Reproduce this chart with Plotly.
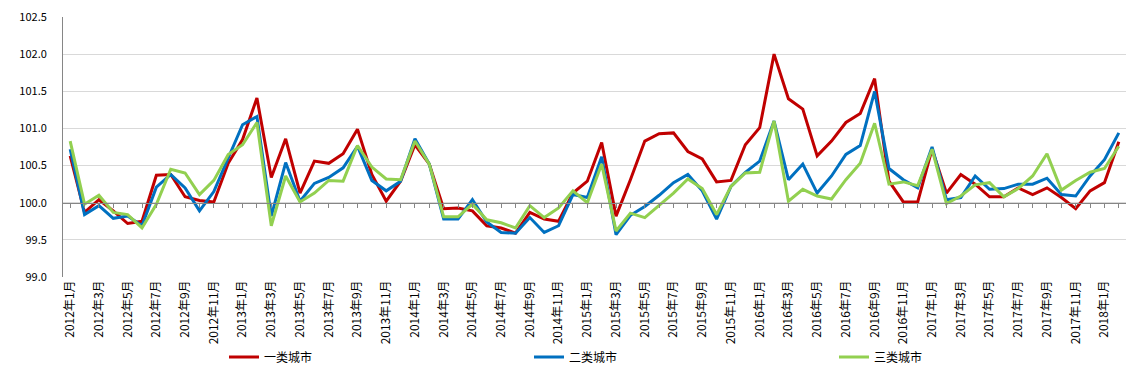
import plotly.graph_objects as go

months = [f"{y}年{m}月" for y in range(2012, 2019) for m in range(1, 13)][:74]

tier1 = [100.63, 99.87, 100.04, 99.89, 99.72, 99.75, 100.37, 100.38, 100.08, 100.03,
         100.01, 100.53, 100.85, 101.41, 100.34, 100.86, 100.13, 100.56, 100.53, 100.66,
         100.99, 100.38, 100.02, 100.29, 100.78, 100.52, 99.92, 99.93, 99.89, 99.69,
         99.66, 99.59, 99.87, 99.78, 99.75, 100.13, 100.29, 100.81, 99.82, 100.31,
         100.83, 100.93, 100.94, 100.69, 100.59, 100.28, 100.30, 100.78, 101.01, 102.00,
         101.40, 101.26, 100.63, 100.83, 101.08, 101.20, 101.67, 100.29, 100.01, 100.01,
         100.72, 100.13, 100.38, 100.25, 100.08, 100.08, 100.20, 100.11, 100.20, 100.07,
         99.92, 100.16, 100.27, 100.82]

tier2 = [100.72, 99.84, 99.96, 99.79, 99.82, 99.69, 100.21, 100.38, 100.20, 99.89,
         100.15, 100.60, 101.05, 101.16, 99.82, 100.54, 100.02, 100.26, 100.34, 100.47,
         100.76, 100.30, 100.16, 100.29, 100.86, 100.52, 99.78, 99.78, 100.04, 99.74,
         99.60, 99.59, 99.80, 99.60, 99.69, 100.11, 100.07, 100.62, 99.57, 99.83,
         99.95, 100.10, 100.27, 100.38, 100.16, 99.78, 100.22, 100.41, 100.56, 101.10,
         100.31, 100.52, 100.13, 100.36, 100.65, 100.77, 101.50, 100.46, 100.31, 100.20,
         100.75, 100.04, 100.07, 100.36, 100.18, 100.19, 100.25, 100.25, 100.33, 100.11,
         100.09, 100.36, 100.58, 100.94]

tier3 = [100.83, 99.98, 100.10, 99.87, 99.84, 99.66, 99.98, 100.45, 100.40, 100.11,
         100.30, 100.65, 100.78, 101.08, 99.69, 100.36, 100.01, 100.13, 100.30, 100.29,
         100.77, 100.48, 100.32, 100.31, 100.83, 100.52, 99.81, 99.81, 99.98, 99.77,
         99.73, 99.66, 99.96, 99.80, 99.93, 100.16, 100.00, 100.52, 99.62, 99.86,
         99.80, 99.97, 100.13, 100.32, 100.19, 99.84, 100.22, 100.40, 100.41, 101.10,
         100.02, 100.18, 100.09, 100.05, 100.31, 100.53, 101.07, 100.25, 100.28, 100.23,
         100.72, 99.99, 100.09, 100.24, 100.27, 100.08, 100.19, 100.36, 100.66, 100.17,
         100.30, 100.41, 100.46, 100.76]

names = ["一类城市", "二类城市", "三类城市"]
colors = ["#C00000", "#0070C0", "#92D050"]
tick_labels = months[::2]

font_family = "Noto Sans CJK SC, DejaVu Sans, sans-serif"

fig = go.Figure()
for name, vals, col in zip(names, [tier1, tier2, tier3], colors):
    fig.add_trace(go.Scatter(x=months, y=vals, mode="lines", name=name,
                             line=dict(color=col, width=3)))

# helper axis drawing the category axis line & tick marks at y=100
fig.add_trace(go.Scatter(x=[], y=[], xaxis="x2", yaxis="y", showlegend=False,
                         hoverinfo="skip"))

y_min, y_max = 99.0, 102.5
fig.update_layout(
    width=1140, height=378,
    margin=dict(l=55, r=22, t=9, b=109, autoexpand=False),
    paper_bgcolor="white", plot_bgcolor="white",
    font=dict(family=font_family, size=11, color="#000000"),
    xaxis=dict(type="category", categoryorder="array", categoryarray=months,
               range=[-0.5, len(months) - 0.5],
               tickmode="array", tickvals=tick_labels, ticktext=tick_labels,
               tickangle=-90, showgrid=False, showline=False, ticks="",
               zeroline=False, tickfont=dict(size=12, color="#000000")),
    xaxis2=dict(overlaying="x", anchor="free",
                position=(100 - y_min) / (y_max - y_min),
                range=[-0.5, len(months) - 0.5], type="linear",
                tickmode="array", tickvals=list(range(len(months))),
                showticklabels=False, ticks="outside", ticklen=4,
                tickcolor="#868686", showline=True, linecolor="#868686",
                linewidth=1, showgrid=False, zeroline=False),
    yaxis=dict(range=[y_min, y_max], dtick=0.5, tick0=99.0, tickformat=".1f",
               showgrid=True, gridcolor="#D9D9D9", gridwidth=1,
               showline=True, linecolor="#868686", linewidth=1,
               ticks="", zeroline=False, ticklabelstandoff=13,
               ticklabeloverflow="allow",
               tickfont=dict(size=11, color="#000000")),
    legend=dict(orientation="h", xref="container", yref="container",
                x=216 / 1140, y=1 - 349 / 378, xanchor="left", yanchor="middle",
                entrywidth=260, entrywidthmode="pixels",
                font=dict(size=12, color="#000000"), bgcolor="rgba(0,0,0,0)"),
    showlegend=True,
)

fig.write_html("out.html")
